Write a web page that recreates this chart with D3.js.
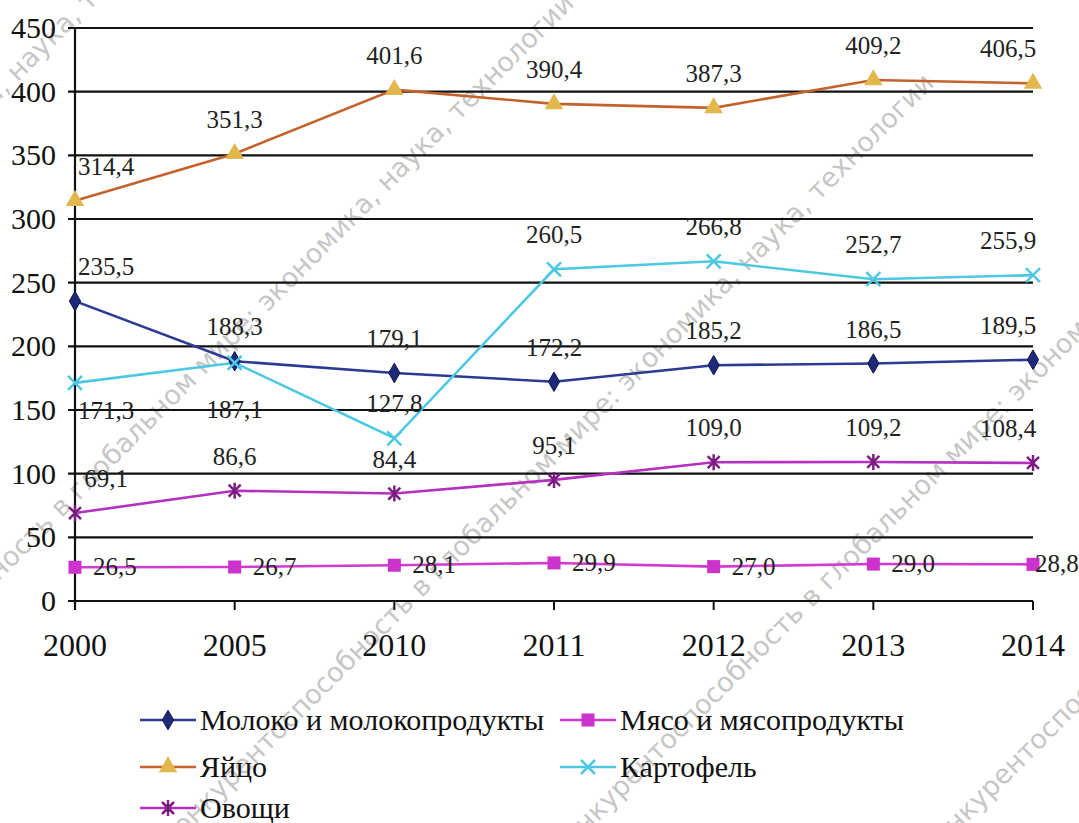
<!DOCTYPE html>
<html>
<head>
<meta charset="utf-8">
<script src="https://cdn.jsdelivr.net/npm/d3@7"></script>
<style>
body { margin: 0; background: #fff; }
text { font-family: "Liberation Serif", "Times New Roman", serif; }
</style>
</head>
<body>
<svg id="chart" width="1079" height="823"></svg>
<script>
var years = ["2000", "2005", "2010", "2011", "2012", "2013", "2014"];
var yTicks = [0, 50, 100, 150, 200, 250, 300, 350, 400, 450];

var milk = [235.5, 188.3, 179.1, 172.2, 185.2, 186.5, 189.5];
var meat = [26.5, 26.7, 28.1, 29.9, 27.0, 29.0, 28.8];
var eggs = [314.4, 351.3, 401.6, 390.4, 387.3, 409.2, 406.5];
var potato = [171.3, 187.1, 127.8, 260.5, 266.8, 252.7, 255.9];
var veg = [69.1, 86.6, 84.4, 95.1, 109.0, 109.2, 108.4];

var seriesNames = ["Молоко и молокопродукты", "Мясо и мясопродукты", "Яйцо", "Картофель", "Овощи"];

var svg = d3.select("#chart"),
    plotL = 75, plotR = 1033, plotT = 28, plotB = 601;

svg.append("rect").attr("width", 1079).attr("height", 823).attr("fill", "#fff");

var x = d3.scalePoint().domain(years).range([plotL, plotR]);
var y = d3.scaleLinear().domain([0, 450]).range([plotB, plotT]);

// watermark
var wm = "Конкурентоспособность в глобальном мире: экономика, наука, технологии";
var wmStarts = [[-560, 660], [-190, 770], [170, 850], [560, 860], [930, 860]];
var wmG = svg.append("g").attr("fill", "#8f8f8f").attr("opacity", 0.5);
wmStarts.forEach(function(p) {
    wmG.append("text")
        .attr("transform", "translate(" + p[0] + "," + p[1] + ") rotate(-45)")
        .style("font-family", "'DejaVu Sans', sans-serif")
        .style("font-size", "27px")
        .text(wm);
});

// grid
svg.append("g").selectAll("line").data(yTicks).enter().append("line")
    .attr("x1", plotL - 7).attr("x2", plotR)
    .attr("y1", function(d) { return y(d); }).attr("y2", function(d) { return y(d); })
    .attr("stroke", "#111").attr("stroke-width", 2.2);

svg.append("line").attr("x1", plotL).attr("x2", plotL).attr("y1", plotT).attr("y2", plotB + 9)
    .attr("stroke", "#111").attr("stroke-width", 2.2);

svg.append("g").selectAll("line").data(years.slice(1)).enter().append("line")
    .attr("x1", function(d) { return x(d); }).attr("x2", function(d) { return x(d); })
    .attr("y1", plotB).attr("y2", plotB + 9)
    .attr("stroke", "#111").attr("stroke-width", 2);

svg.append("g").selectAll("text").data(yTicks).enter().append("text")
    .attr("x", 56).attr("y", function(d) { return y(d) + 10; })
    .attr("text-anchor", "end").style("font-size", "30px").attr("fill", "#111")
    .text(function(d) { return d; });

svg.append("g").selectAll("text").data(years).enter().append("text")
    .attr("x", function(d) { return x(d); }).attr("y", 656)
    .attr("text-anchor", "middle").style("font-size", "32px").attr("fill", "#111")
    .text(function(d) { return d; });

// markers
function marker(g, type, fill, stroke) {
    if (type === "diamond") {
        g.append("path").attr("d", d3.symbol(d3.symbolDiamond, 110)()).attr("fill", fill).attr("stroke", stroke).attr("stroke-width", 1);
    } else if (type === "square") {
        g.append("path").attr("d", d3.symbol(d3.symbolSquare, 170)()).attr("fill", fill);
    } else if (type === "triangle") {
        g.append("path").attr("d", d3.symbol(d3.symbolTriangle, 150)()).attr("fill", fill);
    } else if (type === "x") {
        g.append("path").attr("d", "M-7,-7L7,7M-7,7L7,-7").attr("stroke", fill).attr("stroke-width", 2.5).attr("fill", "none");
    } else if (type === "star") {
        g.append("path").attr("d", "M-6,-6L6,6M-6,6L6,-6M0,-8L0,8").attr("stroke", fill).attr("stroke-width", 2.5).attr("fill", "none");
    }
}

var series = [
    { name: seriesNames[0], values: milk, line: "#2b3a94", mfill: "#1e2a78", mstroke: "#0d1650", marker: "diamond", pos: "above" },
    { name: seriesNames[1], values: meat, line: "#d23ad2", mfill: "#cc33cc", marker: "square", pos: "right" },
    { name: seriesNames[2], values: eggs, line: "#c4622c", mfill: "#e2b84e", marker: "triangle", pos: "above" },
    { name: seriesNames[3], values: potato, line: "#4cc8e2", mfill: "#4cc8e2", marker: "x", pos: ["below", "below2", "above", "above", "above", "above", "above"] },
    { name: seriesNames[4], values: veg, line: "#b52fc0", mfill: "#7a1f80", marker: "star", pos: "above" }
];

var line = d3.line()
    .x(function(d, i) { return x(years[i]); })
    .y(function(d) { return y(d); });

series.forEach(function(s) {
    svg.append("path").datum(s.values).attr("d", line)
        .attr("fill", "none").attr("stroke", s.line).attr("stroke-width", 2.6);
});

var fmt = function(d) { return d3.format(".1f")(d).replace(".", ","); };
var labelHalf = 28;

series.forEach(function(s) {
    var pts = svg.append("g").selectAll("g").data(s.values).enter().append("g")
        .attr("transform", function(d, i) { return "translate(" + x(years[i]) + "," + y(d) + ")"; });
    pts.each(function() { marker(d3.select(this), s.marker, s.mfill, s.mstroke || "none"); });

    function posOf(i) { return Array.isArray(s.pos) ? s.pos[i] : s.pos; }

    svg.append("g").selectAll("text").data(s.values).enter().append("text")
        .attr("x", function(d, i) {
            var p = posOf(i), cx = x(years[i]);
            if (p === "right") return Math.min(cx + 18, 1079 - 44);
            if (p === "below") cx += 14;
            return Math.max(plotL + 3 + labelHalf, Math.min(plotR + 3 - labelHalf, cx));
        })
        .attr("y", function(d, i) {
            var p = posOf(i);
            if (p === "right") return y(d) + 8;
            if (p === "below") return y(d) + 36;
            if (p === "below2") return y(d) + 55;
            return y(d) - 26;
        })
        .attr("text-anchor", function(d, i) {
            return posOf(i) === "right" ? "start" : "middle";
        })
        .style("font-size", "25px").attr("fill", "#222")
        .text(fmt);
});

// legend
var legendPos = [[140, 720], [560, 720], [140, 767], [560, 767], [140, 808]];
series.forEach(function(s, i) {
    var g = svg.append("g").attr("transform", "translate(" + legendPos[i][0] + "," + legendPos[i][1] + ")");
    g.append("line").attr("x1", 0).attr("x2", 56).attr("stroke", s.line).attr("stroke-width", 2.6);
    var m = g.append("g").attr("transform", "translate(28,0)");
    marker(m, s.marker, s.mfill, s.mstroke || "none");
    g.append("text").attr("x", 60).attr("y", 10).style("font-size", "30px").attr("fill", "#111").text(s.name);
});
</script>
</body>
</html>
